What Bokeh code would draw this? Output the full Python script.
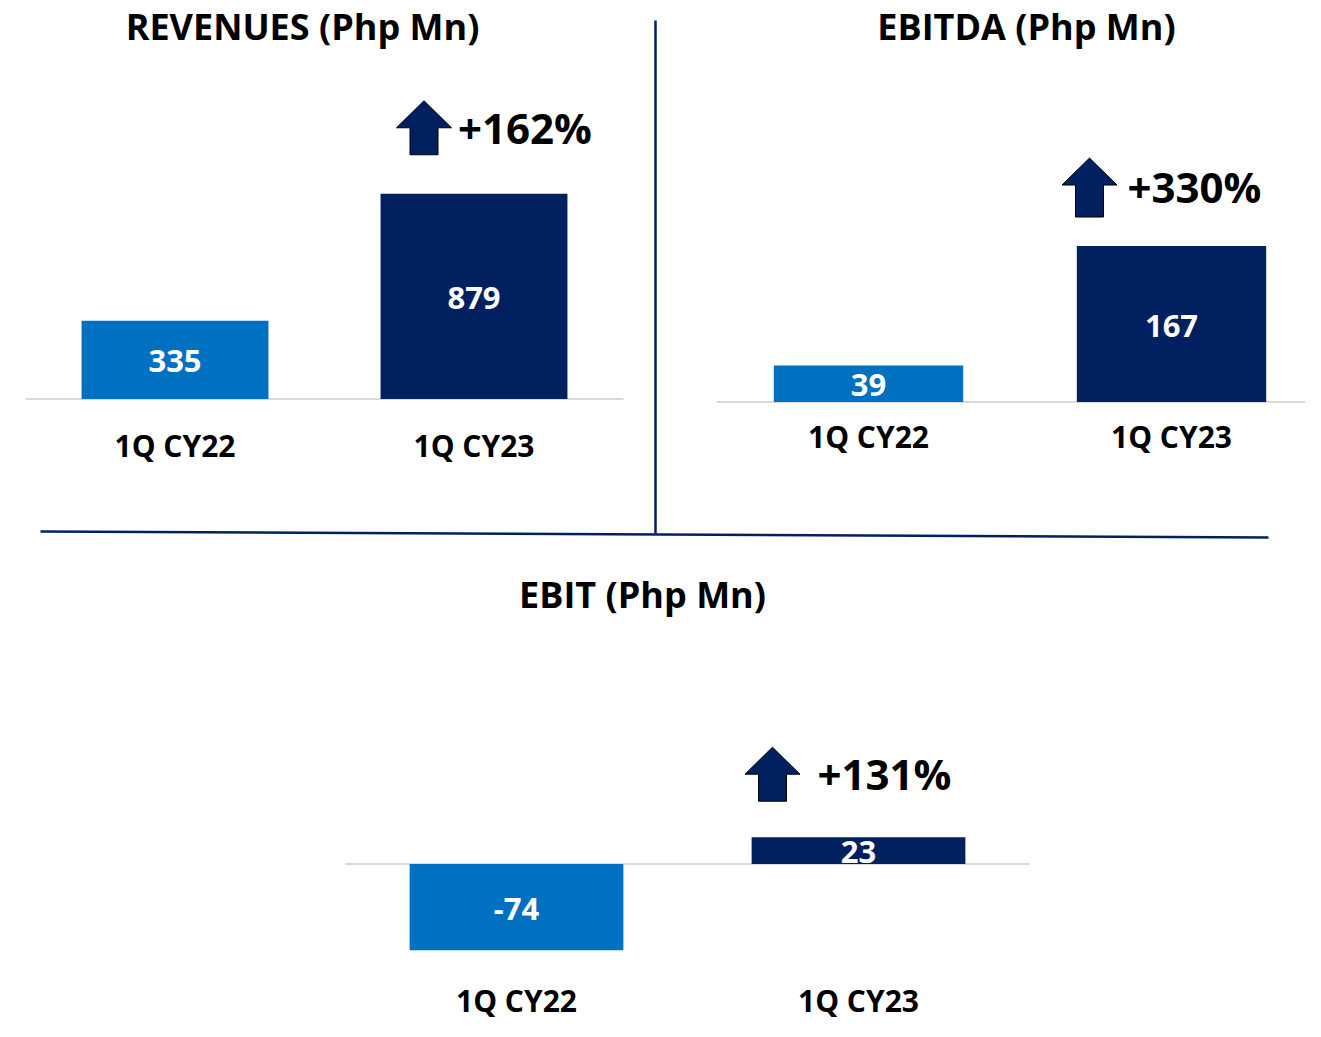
from bokeh.plotting import figure
from bokeh.models import Range1d
from bokeh.core.properties import value
from bokeh.embed import file_html
from bokeh.resources import INLINE

# ---------------- data ----------------
categories = ["1Q CY22", "1Q CY23"]
revenues = [335, 879]
ebitda = [39, 167]
ebit = [-74, 23]
growth_labels = ["+162%", "+330%", "+131%"]
titles = ["REVENUES (Php Mn)", "EBITDA (Php Mn)", "EBIT (Php Mn)"]
bar_colors = ["#0070C0", "#002060"]

# ---------------- page / layout ----------------
W, H = 1305, 1021
FONT = value("Open Sans")
NAVY = "#002060"
SHIFT = 0.4  # em shift between requested and rendered alphabetic baseline

FS_TITLE, FS_CAT, FS_VAL, FS_GROW = 36, 30, 31, 42

p = figure(width=W, height=H, x_range=Range1d(0, W), y_range=Range1d(H, 0),
           output_backend="svg", toolbar_location=None, x_axis_type=None, y_axis_type=None,
           min_border=0)
p.outline_line_color = None
p.background_fill_color = "white"
p.border_fill_color = "white"

panels = [
    dict(key="rev", vals=revenues, c0=174.5, c1=473.5, b=398.5, k=0.2335,
         cat_dy=58.5, title_x=302, title_y=40, g_dx=-16, g_dy=-49,
         a_dx=-50, a_tip=-93, a_h=54),
    dict(key="ebitda", vals=ebitda, c0=868, c1=1171, b=401.5, k=0.934,
         cat_dy=46.5, title_x=1026, title_y=40, g_dx=-44, g_dy=-43,
         a_dx=-82, a_tip=-88, a_h=59),
    dict(key="ebit", vals=ebit, c0=516, c1=858, b=863.5, k=1.165,
         cat_dy=148.5, title_x=642, title_y=608, g_dx=-41, g_dy=-47,
         a_dx=-86, a_tip=-90, a_h=54),
]

xr, yr = {}, {}
for pn in panels:
    u = 1.0 / (pn["c1"] - pn["c0"])
    xs = -pn["c0"] * u
    xr[pn["key"]] = Range1d(xs, xs + W * u)
    ye = pn["b"] / pn["k"]
    yr[pn["key"]] = Range1d(ye - H / pn["k"], ye)
p.extra_x_ranges = xr
p.extra_y_ranges = yr

# separators
p.line(x=[655, 655], y=[20, 533], line_color=NAVY, line_width=2.5)
p.line(x=[40, 1268], y=[531, 537], line_color=NAVY, line_width=2.5)

for i, pn in enumerate(panels):
    key = pn["key"]
    idx = list(range(len(categories)))
    vals = pn["vals"]
    kw = dict(x_range_name=key, y_range_name=key)
    # baseline
    p.line(x=[-0.5, 1.5], y=[0, 0], line_color="#d9d9d9", line_width=2, **kw)
    # bars
    p.vbar(x=idx, top=vals, bottom=0, width=0.625, fill_color=bar_colors,
           line_color=None, **kw)
    # value labels
    p.text(x=idx, y=[v / 2 for v in vals], text=[str(v) for v in vals],
           text_align="center", text_baseline="alphabetic",
           y_offset=14 - SHIFT * FS_VAL,
           text_color="white", text_font=FONT, text_font_style="bold",
           text_font_size=f"{FS_VAL}px", **kw)
    # category labels
    p.text(x=idx, y=[0, 0], text=categories, text_align="center",
           text_baseline="alphabetic", y_offset=pn["cat_dy"] - SHIFT * FS_CAT,
           text_color="black", text_font=FONT, text_font_style="bold",
           text_font_size=f"{FS_CAT}px", **kw)
    # growth label
    p.text(x=[1], y=[vals[1]], text=[growth_labels[i]], text_align="left",
           text_baseline="alphabetic", x_offset=pn["g_dx"],
           y_offset=pn["g_dy"] - SHIFT * FS_GROW,
           text_color="black", text_font=FONT, text_font_style="bold",
           text_font_size=f"{FS_GROW}px", **kw)
    # arrow (anchored on the second bar top)
    bx = pn["c1"]
    by = pn["b"] - vals[1] * pn["k"]
    cx = bx + pn["a_dx"]
    ty = by + pn["a_tip"]
    hy = ty + 27
    bot = ty + pn["a_h"]
    ax = [cx, cx + 27.5, cx + 14, cx + 14, cx - 14, cx - 14, cx - 27.5]
    ay = [ty, hy, hy, bot, bot, hy, hy]
    p.patch(x=ax, y=ay, fill_color=NAVY, line_color="black", line_width=1)
    # title
    p.text(x=[pn["title_x"]], y=[pn["title_y"] - SHIFT * FS_TITLE], text=[titles[i]],
           text_align="center", text_baseline="alphabetic", text_color="black",
           text_font=FONT, text_font_style="bold", text_font_size=f"{FS_TITLE}px")

open("out.html", "w").write(file_html(p, INLINE))
